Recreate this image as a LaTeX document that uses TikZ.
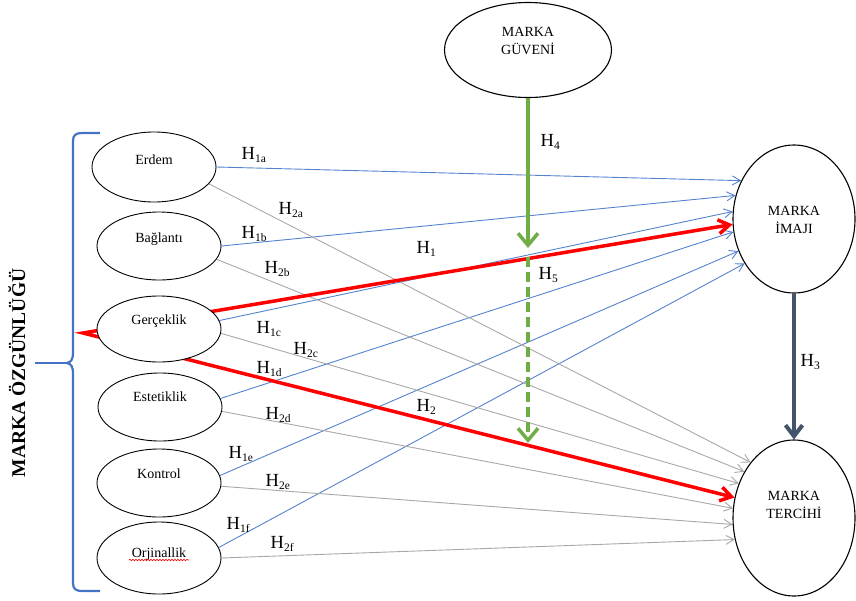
\documentclass[tikz,border=0pt]{standalone}
\usepackage{fontspec}
\setmainfont{Liberation Serif}
\usetikzlibrary{shapes.geometric,arrows.meta,decorations.pathmorphing}
\definecolor{lblue}{RGB}{84,130,205}
\definecolor{bracec}{RGB}{68,114,196}
\definecolor{lgray}{RGB}{168,168,168}
\definecolor{grn}{RGB}{112,173,71}
\definecolor{slate}{RGB}{68,84,106}
\newcommand\Hs[1]{H\raisebox{-3.5pt}{\fontsize{11.5}{12}\selectfont #1}}
\newcommand\up[2]{\raisebox{#1}[0pt][0pt]{#2}}
\pgfdeclarelayer{back}
\pgfsetlayers{back,main}
\begin{document}
\begin{tikzpicture}[x=1pt,y=-1pt,
  sell/.style={ellipse, draw=black, line width=0.9pt, fill=white, inner sep=0pt,
    minimum width=124pt, font=\fontsize{14}{18}\selectfont},
  bell/.style={ellipse, draw=black, line width=1.1pt, fill=white, inner sep=0pt,
    font=\fontsize{14}{18}\selectfont},
  blueln/.style={draw=lblue, line width=0.9pt, -{Straight Barb[length=8pt,width=9pt]}},
  grayln/.style={draw=lgray, line width=0.9pt, -{Straight Barb[length=8pt,width=9pt]}},
  redln/.style={draw=red, line width=3.5pt,
    {Straight Barb[length=11pt,width=14pt]}-{Straight Barb[length=11pt,width=14pt]}},
  grnln/.style={draw=grn, line width=3.5pt, -{Straight Barb[length=12pt,width=20pt]}},
  slateln/.style={draw=slate, line width=4pt, -{Straight Barb[length=11pt,width=17pt]}},
  bracestyle/.style={draw=bracec, line width=2.2pt},
  lab/.style={inner sep=0pt, anchor=base west, font=\fontsize{18.5}{20}\selectfont}]
\useasboundingbox (0,0) rectangle (856,600);

% brace
\draw[bracestyle] (100,133) -- (82,133) .. controls (76,133) and (73,135) .. (73,141)
  -- (73,352) .. controls (73,360) and (71,362) .. (67,363)
  .. controls (71,364) and (73,366) .. (73,374)
  -- (73,583) .. controls (73,589) and (76,591) .. (82,591) -- (100,591);
\draw[bracestyle] (35,363) -- (67,363);
\node[rotate=90, anchor=base, inner sep=0pt, font=\fontsize{19.5}{24}\selectfont\bfseries] (title) at (25,373) {MARKA ÖZGÜNLÜĞÜ};

% ellipses
\node[sell, minimum height=70pt] (erd) at (154,167) {\up{2.5pt}{Erdem}};
\node[sell, minimum height=68pt] (bag) at (159,246) {\up{3.5pt}{Bağlantı}};
\node[sell, minimum height=66pt] (ger) at (159,329) {\up{5pt}{Gerçeklik}};
\node[sell, minimum height=68pt] (est) at (160,407) {\up{5.5pt}{Estetiklik}};
\node[sell, minimum height=68pt] (kon) at (159,483) {\up{4.5pt}{Kontrol}};
\node[sell, minimum height=72pt] (orj) at (159,558) {\up{0.5pt}{Orjinallik}};
\draw[red, line width=0.6pt, decorate, decoration={snake, amplitude=0.8pt, segment length=3pt}] (129,560) -- (189,560);

\node[bell, minimum width=167pt, minimum height=95pt] (guv) at (528,50)
  {\up{4.25pt}{\begin{tabular}{@{}c@{}}MARKA\\GÜVENİ\end{tabular}}};
\node[bell, minimum width=122pt, minimum height=148pt] (imaj) at (794,219)
  {\up{-5.25pt}{\begin{tabular}{@{}c@{}}MARKA\\İMAJI\end{tabular}}};
\node[bell, minimum width=122pt, minimum height=156pt] (terc) at (794,518)
  {\up{8.75pt}{\begin{tabular}{@{}c@{}}MARKA\\TERCİHİ\end{tabular}}};

\coordinate (rp) at (83,333);
\coordinate (g1) at (528,248);
\coordinate (g2) at (528,257);
\coordinate (g3) at (528,443);

\begin{pgfonlayer}{back}
\draw[blueln] (erd.0) -- (imaj.144);
\draw[blueln] (bag.0) -- (imaj.158);
\draw[blueln] (ger.8) -- (imaj.173);
\draw[blueln] (est.8) -- (imaj.192);
\draw[blueln] (kon.7) -- (imaj.210);
\draw[blueln] (orj.10) -- (imaj.222);
\draw[grayln] (erd.343) -- (terc.128);
\draw[grayln] (bag.347) -- (terc.137);
\draw[grayln] (ger.356) -- (terc.148);
\draw[grayln] (est.356) -- (terc.171);
\draw[grayln] (kon.357) -- (terc.186);
\draw[grayln] (orj.0) -- (terc.200);
\draw[redln] (imaj.185) -- (rp) -- (terc.161);
\end{pgfonlayer}

\draw[grnln] (guv.south) -- (g1);
\draw[grnln, dash pattern=on 10pt off 5pt] (g2) -- (g3);
\draw[slateln] (imaj.south) -- (terc.north);

% labels
\node[lab] (h1a) at (241.5,159) {\Hs{1a}};
\node[lab] (h2a) at (278.5,214) {\Hs{2a}};
\node[lab] (h1b) at (241.5,238) {\Hs{1b}};
\node[lab] (h2b) at (264.5,273) {\Hs{2b}};
\node[lab] (h1) at (416.5,253) {\Hs{1}};
\node[lab] (h1c) at (256.5,333) {\Hs{1c}};
\node[lab] (h2c) at (293.5,354) {\Hs{2c}};
\node[lab] (h1d) at (256.5,373) {\Hs{1d}};
\node[lab] (h2d) at (265.5,419) {\Hs{2d}};
\node[lab] (h2) at (416.5,411) {\Hs{2}};
\node[lab] (h1e) at (228.5,458) {\Hs{1e}};
\node[lab] (h2e) at (265.5,486) {\Hs{2e}};
\node[lab] (h1f) at (226.5,529) {\Hs{1f}};
\node[lab] (h2f) at (270.5,548) {\Hs{2f}};
\node[lab] (h4) at (540.5,146) {\Hs{4}};
\node[lab] (h5) at (538.5,279) {\Hs{5}};
\node[lab] (h3) at (800.5,366) {\Hs{3}};
\end{tikzpicture}
\end{document}
